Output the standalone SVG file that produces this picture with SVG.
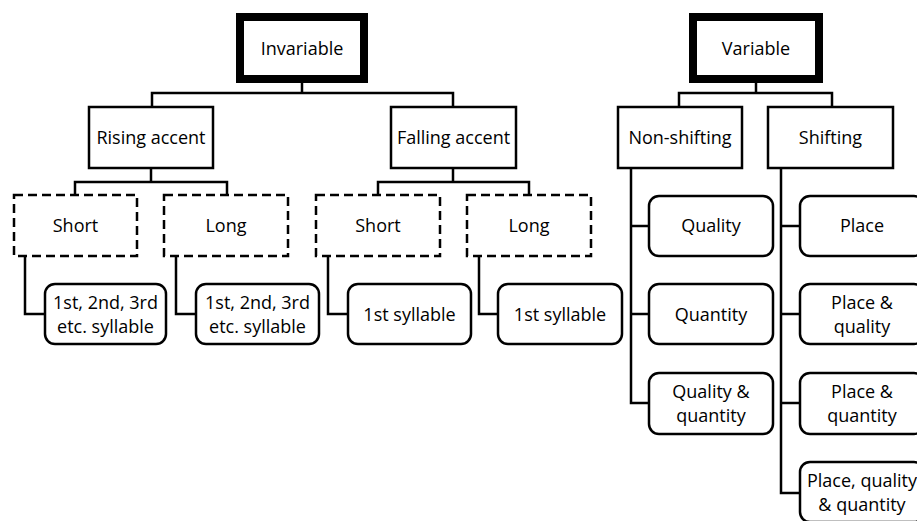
<svg xmlns="http://www.w3.org/2000/svg" width="917" height="521" viewBox="0 0 917 521">
<style>
  .root { fill: #fff; stroke: #000; stroke-width: 8; }
  .box { fill: #fff; stroke: #000; stroke-width: 2.5; }
  .dash { fill: #fff; stroke: #000; stroke-width: 2.5; stroke-dasharray: 9 5; }
  .leaf { fill: #fff; stroke: #000; stroke-width: 2.5; }
  .conn { fill: none; stroke: #000; stroke-width: 2.5; stroke-linejoin: miter; }
  text { font-family: "Open Sans", "Liberation Sans", sans-serif; font-size: 18px; fill: #000; text-anchor: middle; }
</style>
<rect width="917" height="521" fill="#fff"/>
<g id="connectors">
  <polyline class="conn" points="302,83 302,93"/>
  <polyline class="conn" points="152,106 152,93 453,93 453,106"/>
  <polyline class="conn" points="756,83 756,93"/>
  <polyline class="conn" points="679,106 679,93 832,93 832,106"/>
  <polyline class="conn" points="151,168 151,182"/>
  <polyline class="conn" points="75,194 75,182 227,182 227,194"/>
  <polyline class="conn" points="453,168 453,182"/>
  <polyline class="conn" points="378,194 378,182 529,182 529,194"/>
  <polyline class="conn" points="25,257 25,314 44,314"/>
  <polyline class="conn" points="176,257 176,314 195,314"/>
  <polyline class="conn" points="328,257 328,314 347,314"/>
  <polyline class="conn" points="479,257 479,314 497,314"/>
  <polyline class="conn" points="631,168 631,403 648,403"/>
  <polyline class="conn" points="631,226 648,226"/>
  <polyline class="conn" points="631,314 648,314"/>
  <polyline class="conn" points="781,168 781,493 799,493"/>
  <polyline class="conn" points="781,226 799,226"/>
  <polyline class="conn" points="781,314 799,314"/>
  <polyline class="conn" points="781,403 799,403"/>
</g>
<g id="invariable">
  <rect class="root" x="240" y="17" width="124" height="62"/>
  <text x="302" y="54.5">Invariable</text>
</g>
<g id="variable">
  <rect class="root" x="693" y="17" width="126" height="62"/>
  <text x="756" y="54.5">Variable</text>
</g>
<g id="rising-accent">
  <rect class="box" x="89" y="107" width="124" height="61"/>
  <text x="151" y="144">Rising accent</text>
</g>
<g id="falling-accent">
  <rect class="box" x="391" y="107" width="125" height="61"/>
  <text x="453.5" y="144">Falling accent</text>
</g>
<g id="non-shifting">
  <rect class="box" x="618" y="107" width="124" height="61"/>
  <text x="680" y="144">Non-shifting</text>
</g>
<g id="shifting">
  <rect class="box" x="768" y="107" width="125" height="61"/>
  <text x="830.5" y="144">Shifting</text>
</g>
<g id="rising-short">
  <rect class="dash" x="14" y="195" width="123" height="61"/>
  <text x="75.5" y="232">Short</text>
</g>
<g id="rising-long">
  <rect class="dash" x="164" y="195" width="124" height="61"/>
  <text x="226" y="232">Long</text>
</g>
<g id="falling-short">
  <rect class="dash" x="316" y="195" width="124" height="61"/>
  <text x="378" y="232">Short</text>
</g>
<g id="falling-long">
  <rect class="dash" x="467" y="195" width="124" height="61"/>
  <text x="529" y="232">Long</text>
</g>
<g id="rising-short-syllable">
  <rect class="leaf" x="45" y="284" width="121" height="60" rx="10"/>
  <text x="105.5" y="308.5">1st, 2nd, 3rd</text>
  <text x="105.5" y="332.5">etc. syllable</text>
</g>
<g id="rising-long-syllable">
  <rect class="leaf" x="196" y="284" width="123" height="60" rx="10"/>
  <text x="257.5" y="308.5">1st, 2nd, 3rd</text>
  <text x="257.5" y="332.5">etc. syllable</text>
</g>
<g id="falling-short-syllable">
  <rect class="leaf" x="348" y="284" width="123" height="60" rx="10"/>
  <text x="409.5" y="320.5">1st syllable</text>
</g>
<g id="falling-long-syllable">
  <rect class="leaf" x="498" y="284" width="124" height="60" rx="10"/>
  <text x="560" y="320.5">1st syllable</text>
</g>
<g id="quality">
  <rect class="leaf" x="649" y="196" width="124" height="60" rx="10"/>
  <text x="711" y="232">Quality</text>
</g>
<g id="quantity">
  <rect class="leaf" x="649" y="284" width="124" height="60" rx="10"/>
  <text x="711" y="320.5">Quantity</text>
</g>
<g id="quality-quantity">
  <rect class="leaf" x="649" y="373" width="124" height="61" rx="10"/>
  <text x="711" y="398">Quality &amp;</text>
  <text x="711" y="422">quantity</text>
</g>
<g id="place">
  <rect class="leaf" x="800" y="196" width="124" height="60" rx="10"/>
  <text x="862" y="232">Place</text>
</g>
<g id="place-quality">
  <rect class="leaf" x="800" y="284" width="124" height="60" rx="10"/>
  <text x="862" y="308.5">Place &amp;</text>
  <text x="862" y="332.5">quality</text>
</g>
<g id="place-quantity">
  <rect class="leaf" x="800" y="373" width="124" height="61" rx="10"/>
  <text x="862" y="398">Place &amp;</text>
  <text x="862" y="422">quantity</text>
</g>
<g id="place-quality-quantity">
  <rect class="leaf" x="800" y="462" width="124" height="60" rx="10"/>
  <text x="862" y="487">Place, quality</text>
  <text x="862" y="511">&amp; quantity</text>
</g>
</svg>
